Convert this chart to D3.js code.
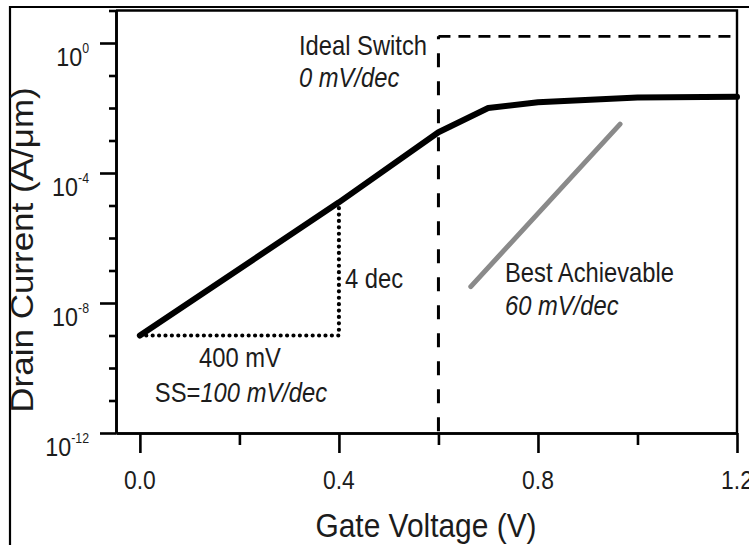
<!DOCTYPE html>
<html>
<head>
<meta charset="utf-8">
<script src="https://cdn.jsdelivr.net/npm/d3@7"></script>
<style>
  html, body { margin: 0; padding: 0; background: #fff; }
  svg { display: block; }
  text { font-family: "Liberation Sans", Arial, Helvetica, sans-serif; fill: #1c1c1c; }
</style>
</head>
<body>
<svg id="chart" width="749" height="545"></svg>
<script>
// Transfer characteristic of a transistor (log drain current vs gate voltage)
const gateVoltage = [0, 0.4, 0.6, 0.7, 0.8, 1.0, 1.2];
const drainCurrent = [1e-9, 1.25e-5, 1.8e-3, 1e-2, 1.5e-2, 2.1e-2, 2.2e-2];

// Ideal switch: step at 0.6 V
const idealVoltage = [0.6, 0.6, 1.2];
const idealCurrent = [1e-12, 1.6, 1.6];

// Best achievable slope (60 mV/dec)
const bestVoltage = [0.665, 0.965];
const bestCurrent = [3.2e-8, 3.2e-3];

// Subthreshold-swing construction: 400 mV across, 4 decades up
const swingVoltage = [0, 0.4, 0.4];
const swingCurrent = [1e-9, 1e-9, 1e-5];

const xMajorTicks = [0.0, 0.4, 0.8, 1.2];
const xMinorTicks = [0.2, 0.6, 1.0];
const xTickLabels = ["0.0", "0.4", "0.8", "1.2"];
const yMajorTicks = [1e0, 1e-4, 1e-8, 1e-12];
const yMajorExponents = ["0", "-4", "-8", "-12"];
const yMinorTicks = [1e1, 1e-1, 1e-2, 1e-3, 1e-5, 1e-6, 1e-7, 1e-9, 1e-10, 1e-11];

const svg = d3.select("#chart");
const plotLeft = 116, plotRight = 737, plotTop = 10.5, plotBottom = 433;
const squeeze = 0.88;

const x = d3.scaleLinear().domain([-0.048, 1.2]).range([plotLeft, plotRight]);
const y = d3.scaleLog().domain([1e-12, 1e1]).range([plotBottom, plotTop]);

// outer border of the figure
svg.append("path")
  .attr("d", `M10,560 L10,7 L760,7`)
  .attr("fill", "none").attr("stroke", "#000").attr("stroke-width", 2.2);

// plot frame (top and right edges)
svg.append("path")
  .attr("d", `M${plotLeft},${plotTop} L${plotRight},${plotTop} L${plotRight},${plotBottom}`)
  .attr("fill", "none").attr("stroke", "#000").attr("stroke-width", 2.4);

// axes: ticks only, labels drawn separately
function styleAxis(g) {
  g.select(".domain").attr("stroke", "#000").attr("stroke-width", 2.6);
  g.selectAll(".tick line").attr("stroke", "#000").attr("stroke-width", 2.6);
  g.selectAll(".tick text").remove();
}
svg.append("g").attr("transform", `translate(${plotLeft},0)`)
  .call(d3.axisLeft(y).tickValues(yMinorTicks).tickSize(7).tickSizeOuter(0).tickFormat(""))
  .call(styleAxis);
svg.append("g").attr("transform", `translate(${plotLeft},0)`)
  .call(d3.axisLeft(y).tickValues(yMajorTicks).tickSize(16).tickSizeOuter(0).tickFormat(""))
  .call(styleAxis);

svg.append("g").attr("transform", `translate(0,${plotBottom})`)
  .call(d3.axisBottom(x).tickValues(xMinorTicks).tickSize(12).tickSizeOuter(0).tickFormat(""))
  .call(styleAxis);
svg.append("g").attr("transform", `translate(0,${plotBottom})`)
  .call(d3.axisBottom(x).tickValues(xMajorTicks).tickSize(20).tickSizeOuter(0).tickFormat(""))
  .call(styleAxis);

// helper for horizontally condensed text
function label(px, py, anchor, size, rotate) {
  return svg.append("text")
    .attr("transform", `translate(${px},${py}) scale(${squeeze},1)` + (rotate ? ` rotate(${rotate})` : ""))
    .attr("text-anchor", anchor)
    .attr("font-size", size);
}

// x tick labels
xMajorTicks.forEach((v, i) => {
  label(x(v), 489, "middle", 26).text(xTickLabels[i]);
});

// y tick labels as powers of ten
yMajorTicks.forEach((v, i) => {
  const t = label(89, y(v) + 23, "end", 26.5);
  t.append("tspan").text("10");
  t.append("tspan").attr("font-size", 14).attr("dy", -13).text(yMajorExponents[i]);
});

// axis titles
label(426, 537, "middle", 34).text("Gate Voltage (V)");
label(33, 250, "middle", 35, -90).text("Drain Current (A/\u03bcm)");

const line = d3.line().x(d => x(d[0])).y(d => y(d[1]));
const idealPts = d3.zip(idealVoltage, idealCurrent);

// ideal switch: vertical step (long dashes) and on-state level (shorter dashes)
svg.append("path")
  .datum([idealPts[1], idealPts[0]])
  .attr("d", line)
  .attr("fill", "none").attr("stroke", "#000").attr("stroke-width", 3)
  .attr("stroke-dasharray", "14,14").attr("stroke-dashoffset", 11);
svg.append("path")
  .datum([idealPts[1], idealPts[2]])
  .attr("d", line)
  .attr("fill", "none").attr("stroke", "#000").attr("stroke-width", 2.8)
  .attr("stroke-dasharray", "12,8");

// subthreshold swing construction (dotted)
svg.append("path")
  .datum(d3.zip(swingVoltage, swingCurrent))
  .attr("d", line)
  .attr("fill", "none").attr("stroke", "#000").attr("stroke-width", 4.2)
  .attr("stroke-linecap", "round")
  .attr("stroke-dasharray", "0,6.4");

// best achievable slope (grey)
svg.append("path")
  .datum(d3.zip(bestVoltage, bestCurrent))
  .attr("d", line)
  .attr("fill", "none").attr("stroke", "#8a8a8a").attr("stroke-width", 5)
  .attr("stroke-linecap", "round");

// device curve
svg.append("path")
  .datum(d3.zip(gateVoltage, drainCurrent))
  .attr("d", line)
  .attr("fill", "none").attr("stroke", "#000").attr("stroke-width", 6)
  .attr("stroke-linejoin", "round").attr("stroke-linecap", "round");

// annotations
label(299, 55, "start", 27).text("Ideal Switch");
label(299, 87, "start", 27).attr("font-style", "italic").text("0 mV/dec");

label(345, 288, "start", 27).text("4 dec");
label(240, 367, "middle", 27).text("400 mV");
const ss = label(241, 402, "middle", 27);
ss.append("tspan").text("SS=");
ss.append("tspan").attr("font-style", "italic").text("100 mV/dec");

label(505, 282, "start", 27).text("Best Achievable");
label(505, 315, "start", 27).attr("font-style", "italic").text("60 mV/dec");
</script>
</body>
</html>
